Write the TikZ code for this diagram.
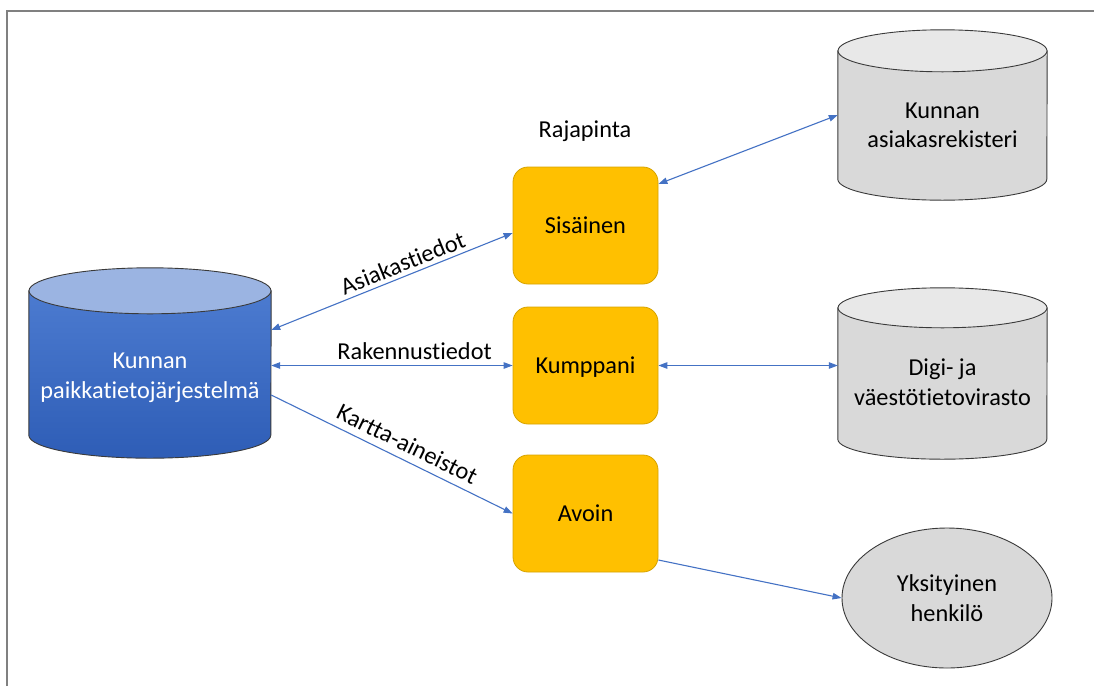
\documentclass[tikz,border=0pt]{standalone}
\usepackage{fontspec}
\setmainfont{Carlito}[Ligatures=NoCommon]
\usetikzlibrary{arrows.meta,shapes.geometric,calc}
\definecolor{linkblue}{HTML}{4472C4}
\definecolor{apiorange}{HTML}{FFC000}
\definecolor{apiedge}{HTML}{D6A300}
\definecolor{gisupper}{HTML}{4C7BD0}
\definecolor{gislower}{HTML}{2E5DB6}
\definecolor{gistop}{HTML}{9BB4E2}
\definecolor{cylgray}{HTML}{D9D9D9}
\definecolor{cyltop}{HTML}{E8E8E8}
\definecolor{framegray}{HTML}{808080}
\definecolor{outline}{HTML}{3A3A3A}

\begin{document}
\begin{tikzpicture}[x=1pt,y=1pt,
  >={Triangle[length=9pt,width=6.5pt]},
  every node/.style={font=\fontsize{24.3}{29.6}\selectfont},
  apibox/.style={rectangle, rounded corners=15pt, fill=apiorange, draw=apiedge,
    line width=0.8pt, minimum width=145pt, minimum height=117pt, inner sep=0pt,
    text height=15.5pt, text depth=0pt},
  cylbody/.style={rectangle, inner sep=0pt},
  cylline/.style={draw=outline, line width=0.9pt},
  link/.style={draw=linkblue, line width=1.1pt},
  lbl/.style={inner sep=0pt, sloped}
]
\useasboundingbox (0,0) rectangle (1094,-686);

% page frame
\draw[framegray, line width=2pt] (6.5,-686) -- (6.5,-11) -- (1094,-11);

% municipal GIS database
\node[cylbody, minimum width=242pt, minimum height=144pt] (gisbody) at (150,-363) {};
\path[cylline, top color=gisupper, bottom color=gislower]
  (gisbody.north west) -- (gisbody.south west)
  arc[start angle=180, end angle=360, x radius=121pt, y radius=23pt]
  -- (gisbody.north east) -- cycle;
\path[cylline, fill=gistop] (gisbody.north) ellipse[x radius=121pt, y radius=23pt];
\node[text=white, align=center] (gis) at (150,-377.75) {Kunnan\\paikkatietojärjestelmä};

% customer register
\node[cylbody, minimum width=209pt, minimum height=128pt] (regbody) at (942.5,-115) {};
\path[cylline, fill=cylgray]
  (regbody.north west) -- (regbody.south west)
  arc[start angle=180, end angle=360, x radius=104.5pt, y radius=21pt]
  -- (regbody.north east) -- cycle;
\path[cylline, fill=cyltop] (regbody.north) ellipse[x radius=104.5pt, y radius=21pt];
\node[align=center] (reg) at (942.5,-125.25) {Kunnan\\asiakasrekisteri};

% population register agency
\node[cylbody, minimum width=209pt, minimum height=131pt] (dvvbody) at (942.5,-373.5) {};
\path[cylline, fill=cylgray]
  (dvvbody.north west) -- (dvvbody.south west)
  arc[start angle=180, end angle=360, x radius=104.5pt, y radius=20pt]
  -- (dvvbody.north east) -- cycle;
\path[cylline, fill=cyltop] (dvvbody.north) ellipse[x radius=104.5pt, y radius=20pt];
\node[align=center] (dvv) at (942.5,-382) {Digi- ja\\väestötietovirasto};

% private person
\node[ellipse, cylline, fill=cylgray, minimum width=210pt, minimum height=140pt,
  inner sep=0pt, align=center] (henk) at (947,-598) {Yksityinen\\henkilö};

% interfaces
\node[anchor=base] (raja) at (585,-137) {Rajapinta};
\node[apibox] (sis) at (585.5,-225.5) {Sisäinen};
\node[apibox] (kum) at (585.5,-365.5) {Kumppani};
\node[apibox] (avo) at (585.5,-513.5) {Avoin};

% data flows
\draw[link,<->] ([yshift=33pt]gisbody.east) --
  node[lbl, above=4pt, pos=0.565] {Asiakastiedot} ([yshift=-7.5pt]sis.west);
\draw[link,<->] (kum.west -| gisbody.east) --
  node[lbl, above=5pt, pos=0.594] {Rakennustiedot} (kum.west);
\draw[link,->] ([yshift=-32pt]gisbody.east) --
  node[lbl, above=7pt, pos=0.535] {Kartta-aineistot} (avo.west);
\draw[link,<->] ([yshift=41.5pt]sis.east) -- (regbody.west);
\draw[link,<->] (kum.east) -- (kum.east -| dvvbody.west);
\draw[link,->] ([yshift=-46.5pt]avo.east) -- (henk.west);
\end{tikzpicture}
\end{document}
